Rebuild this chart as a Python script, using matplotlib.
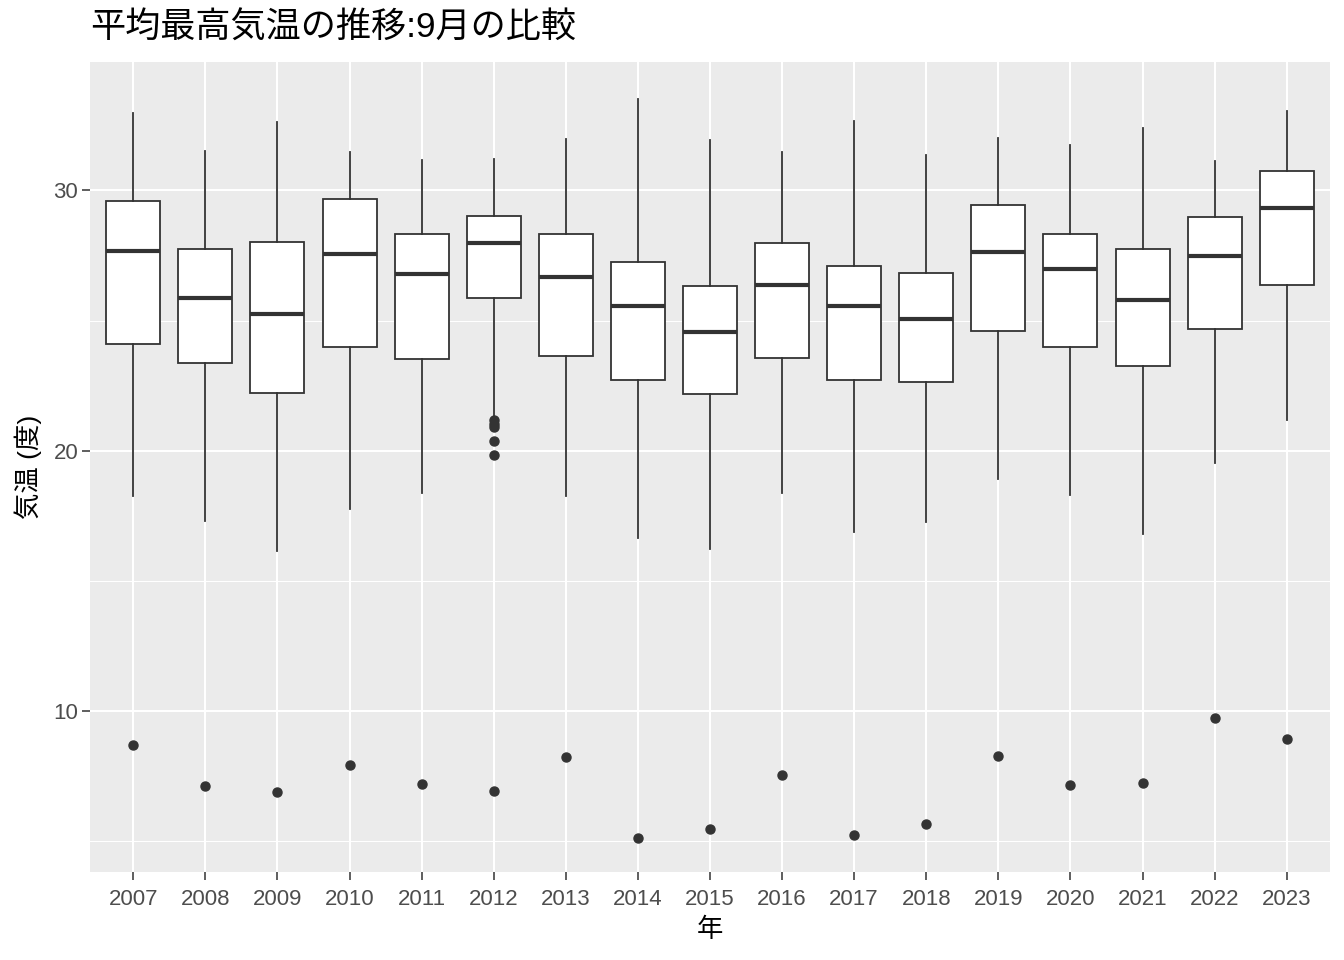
import matplotlib.pyplot as plt
import numpy as np

plt.rcParams['font.family'] = ['Liberation Sans', 'Noto Sans CJK JP', 'DejaVu Sans']

# 年ごとの9月最高気温の箱ひげ図の統計量
years = [str(y) for y in range(2007, 2024)]
whislo = [18.27, 17.30, 16.15, 17.78, 18.38, 21.34, 18.27, 16.65, 16.23, 18.38, 16.88, 17.27, 18.90, 18.31, 16.80, 19.51, 21.19]
q1 = [24.11, 23.38, 22.22, 23.99, 23.54, 25.88, 23.65, 22.72, 22.16, 23.58, 22.72, 22.65, 24.58, 23.99, 23.26, 24.69, 26.38]
med = [27.68, 25.87, 25.26, 27.54, 26.79, 27.99, 26.69, 25.56, 24.57, 26.38, 25.56, 25.06, 27.64, 26.98, 25.79, 27.49, 29.33]
q3 = [29.59, 27.73, 28.00, 29.67, 28.34, 29.00, 28.31, 27.23, 26.34, 27.96, 27.09, 26.84, 29.42, 28.31, 27.73, 28.96, 30.74]
whishi = [32.99, 31.53, 32.61, 31.49, 31.18, 31.22, 31.96, 33.49, 31.95, 31.46, 32.65, 31.37, 32.03, 31.76, 32.41, 31.14, 33.03]
outliers = [
    [8.71], [7.13], [6.90], [7.94], [7.20],
    [21.18, 21.03, 20.91, 20.37, 19.82, 6.93],
    [8.24], [5.12], [5.47], [7.55], [5.24], [5.66],
    [8.28], [7.17], [7.24], [9.75], [8.94],
]

stats = []
for i in range(len(years)):
    stats.append({'whislo': whislo[i], 'q1': q1[i], 'med': med[i], 'q3': q3[i],
                  'whishi': whishi[i], 'fliers': outliers[i], 'label': years[i]})

fig = plt.figure(figsize=(13.44, 9.6), dpi=100)
ax = fig.add_axes([90 / 1344, 1 - 872 / 960, 1240 / 1344, 810 / 960])
ax.set_facecolor('#EBEBEB')

dark = '#333333'
ax.bxp(stats, positions=range(1, len(years) + 1), widths=0.75, patch_artist=True,
       showcaps=False,
       boxprops=dict(facecolor='white', edgecolor=dark, linewidth=1.3),
       medianprops=dict(color=dark, linewidth=3.0),
       whiskerprops=dict(color=dark, linewidth=1.3),
       flierprops=dict(marker='o', markerfacecolor=dark, markeredgecolor=dark,
                       markersize=6.5, linestyle='none'),
       zorder=3)

ax.set_xlim(0.4, len(years) + 0.6)
ax.set_ylim(3.82, 34.93)
ax.set_yticks([10, 20, 30])
ax.set_yticks([5, 15, 25], minor=True)
ax.set_xticks(range(1, len(years) + 1))
ax.set_xticklabels(years)

ax.grid(True, which='major', color='white', linewidth=1.5, zorder=0)
ax.grid(True, which='minor', axis='y', color='white', linewidth=0.75, zorder=0)
ax.set_axisbelow(True)
for s in ax.spines.values():
    s.set_visible(False)

ax.tick_params(axis='both', which='major', length=5.5, width=1.1, color=dark,
               labelcolor='#4D4D4D', labelsize=16, pad=3)
ax.tick_params(axis='x', which='major', pad=7)
ax.tick_params(axis='y', which='minor', length=0)

ax.set_xlabel('年', fontsize=19, labelpad=5)
ax.set_ylabel('気温 (度)', fontsize=19, labelpad=8)

fig.text(90 / 1344, 1 - 28 / 960, '平均最高気温の推移:9月の比較', fontsize=25.3,
         ha='left', va='center')

fig.savefig('out.png', dpi=100)
